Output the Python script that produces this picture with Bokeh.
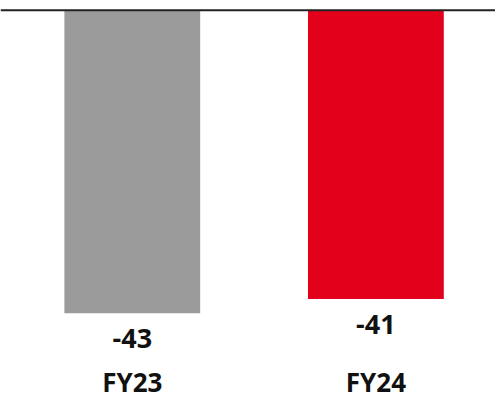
from bokeh.plotting import figure
from bokeh.models import Range1d, Span, ColumnDataSource
from bokeh.embed import file_html
from bokeh.resources import INLINE
from bokeh.core.properties import value

categories = ["FY23", "FY24"]
values = [-43, -41]
labels = ["-43", "-41"]
colors = ["#9b9b9b", "#e2001a"]

xs = list(range(len(categories)))
src = ColumnDataSource(dict(x=xs, top=[0] * len(values), bottom=values,
                            lab=labels, cat=categories, color=colors))

W, H = 495, 399
p = figure(width=W, height=H, output_backend="svg", toolbar_location=None,
           x_range=Range1d(-0.541, 1.491), y_range=Range1d(-55.25, 1.391),
           min_border=0, outline_line_color=None)
p.axis.visible = False
p.grid.visible = False
p.background_fill_color = "white"
p.border_fill_color = "white"

p.vbar(x="x", top="top", bottom="bottom", width=0.5575, color="color",
       line_color=None, source=src)

p.add_layout(Span(location=0, dimension="width", line_color="#222222", line_width=2))

font = value("Open Sans")
p.text(x="x", y="bottom", text="lab", source=src, text_font=font,
       text_font_style="bold", text_font_size="27px", text_color="#111111",
       text_align="center", text_baseline="middle", y_offset=25.5)

label_y = [-52.70] * len(categories)
p.text(x=xs, y=label_y, text=categories, text_font=font,
       text_font_style="bold", text_font_size="26px", text_color="#111111",
       text_align="center", text_baseline="middle")

open("out.html", "w").write(file_html(p, INLINE))
